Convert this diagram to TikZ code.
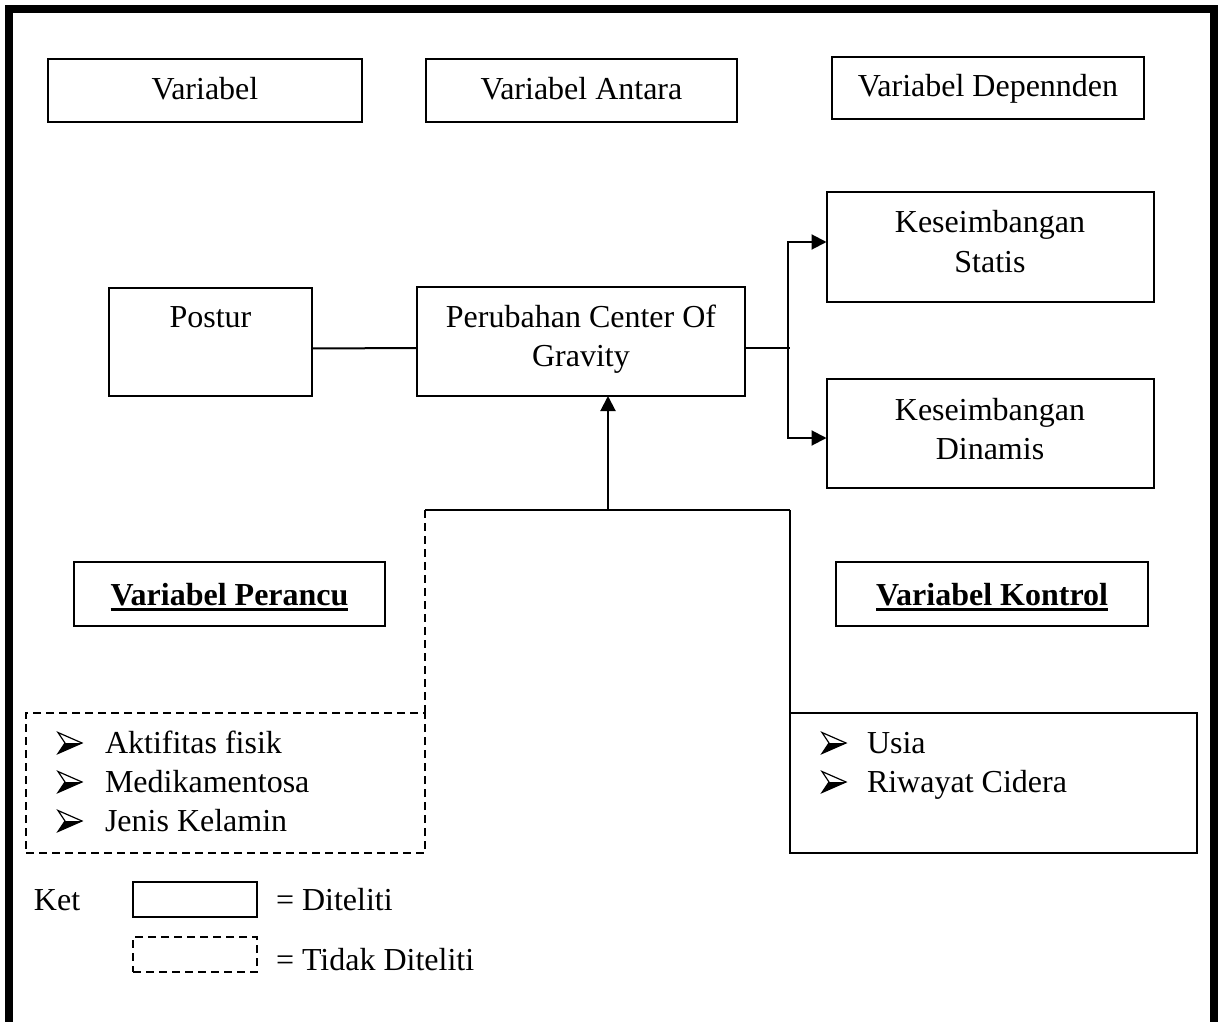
\documentclass[tikz,border=0pt]{standalone}
\usepackage{fontspec}
\setmainfont{Liberation Serif}
\usetikzlibrary{arrows.meta}
\newcommand\myul[1]{\vtop{\hbox{#1}\kern2.5pt\hrule height 3pt}}
\begin{document}
\begin{tikzpicture}[x=1pt,y=-1pt,
  every node/.style={inner sep=0pt, outer sep=0pt, font=\fontsize{32}{40}\selectfont},
  box/.style={draw, line width=2pt, rectangle},
  dbox/.style={draw, line width=2pt, rectangle, dash pattern=on 8pt off 5pt},
  txt/.style={anchor=base},
  ltxt/.style={anchor=base west},
  ln/.style={line width=2pt},
  arr/.style={line width=2pt, -{Triangle[length=15pt,width=15pt]}},
  arrowbul/.pic={
    \fill[black] (0,10.5) -- (24,0) -- (7,0) -- cycle;
    \draw[line width=1.2pt, line join=miter] (0,-10.5) -- (24,0) -- (0,10.5) -- (7,0) -- cycle;
  },
]
\useasboundingbox (0,0) rectangle (1224,1022);
\clip (0,0) rectangle (1224,1022);
% frame
\draw[line width=8.5pt, line join=miter] (9,1040) -- (9,9) -- (1214,9) -- (1214,1040);

% header boxes
\node[box, minimum width=314pt, minimum height=63pt] (v1) at (205,90.5) {};
\node[txt] (v1t) at (205,100) {Variabel};
\node[box, minimum width=311pt, minimum height=63pt] (v2) at (581.5,90.5) {};
\node[txt] (v2t) at (581.5,100) {Variabel Antara};
\node[box, minimum width=312pt, minimum height=62pt] (v3) at (988,88) {};
\node[txt] (v3t) at (988,97) {Variabel Depennden};

% main boxes
\node[box, minimum width=203pt, minimum height=108pt] (postur) at (210.5,342) {};
\node[txt] (posturt) at (210.5,327) {Postur};
\node[box, minimum width=328pt, minimum height=109pt] (perub) at (581,341.5) {};
\node[txt] (perubt1) at (581,327) {Perubahan Center Of};
\node[txt] (perubt2) at (581,366) {Gravity};
\node[box, minimum width=327pt, minimum height=110pt] (statis) at (990,247) {};
\node[txt] (statist1) at (990,232) {Keseimbangan};
\node[txt] (statist2) at (990,272) {Statis};
\node[box, minimum width=327pt, minimum height=109pt] (dinamis) at (990,433.5) {};
\node[txt] (dinamist1) at (990,420) {Keseimbangan};
\node[txt] (dinamist2) at (990,459) {Dinamis};

% connectors top
\draw[ln] ([yshift=-6.5pt]postur.east) -- ([yshift=-6.5pt]perub.west);
\coordinate (fork) at (788,348);
\draw[ln] ([yshift=-6.5pt]perub.east) -- ([xshift=2pt]fork);
\draw[arr] (fork) |- ([yshift=5pt]statis.west);
\draw[arr] (fork) |- ([yshift=-4.5pt]dinamis.west);

% category boxes
\node[box, minimum width=311pt, minimum height=64pt] (perancu) at (229.5,594) {};
\node[txt, font=\fontsize{32}{40}\selectfont\bfseries] (perancut) at (229.5,605) {\myul{Variabel Perancu}};
\node[box, minimum width=312pt, minimum height=64pt] (kontrol) at (992,594) {};
\node[txt, font=\fontsize{32}{40}\selectfont\bfseries] (kontrolt) at (992,605) {\myul{Variabel Kontrol}};

% list boxes
\node[dbox, minimum width=399pt, minimum height=140pt] (plist) at (225.5,783) {};
\pic at (58,743) {arrowbul};
\node[ltxt] (pl1) at (105,753) {Aktifitas fisik};
\pic at (58,782) {arrowbul};
\node[ltxt] (pl2) at (105,792) {Medikamentosa};
\pic at (58,821) {arrowbul};
\node[ltxt] (pl3) at (105,831) {Jenis Kelamin};

\node[box, minimum width=407pt, minimum height=140pt] (klist) at (993.5,783) {};
\pic at (822,743) {arrowbul};
\node[ltxt] (kl1) at (867,753) {Usia};
\pic at (822,782) {arrowbul};
\node[ltxt] (kl2) at (867,792) {Riwayat Cidera};

% bottom connectors
\coordinate (jl) at (425,510);
\coordinate (jr) at (790,510);
\coordinate (jm) at (608,510);
\draw[ln] (jl) -- (jr);
\draw[ln, dash pattern=on 8pt off 5pt] (jl) -- (plist.north east);
\draw[ln] (jr) -- (klist.north west);
\draw[arr] (jm) -- (jm |- perub.south);

% legend
\node[ltxt] (ket) at (34,910) {Ket};
\node[box, minimum width=124pt, minimum height=35pt] (leg1) at (195,899.5) {};
\node[ltxt] (leg1t) at (276,910) {= Diteliti};
\node[dbox, minimum width=124pt, minimum height=35pt] (leg2) at (195,954.5) {};
\node[ltxt] (leg2t) at (276,970) {= Tidak Diteliti};
\end{tikzpicture}
\end{document}
